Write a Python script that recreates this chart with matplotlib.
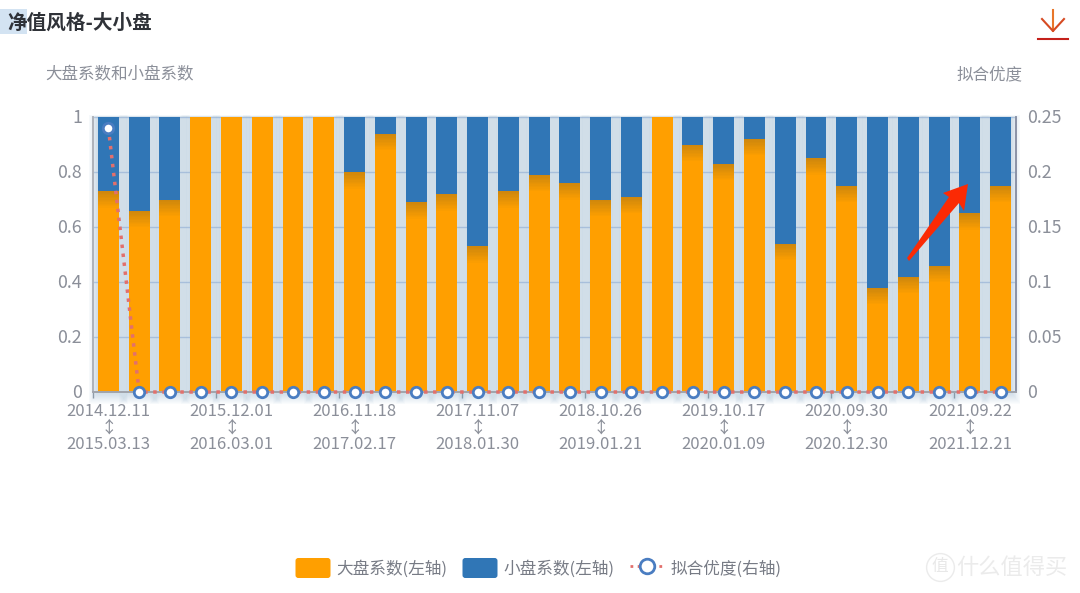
import matplotlib
matplotlib.use('Agg')
import matplotlib.pyplot as plt
from matplotlib.lines import Line2D
from matplotlib.legend_handler import HandlerPatch
from matplotlib.patches import FancyBboxPatch, Patch, Polygon, Rectangle
import numpy as np

plt.rcParams['font.family'] = ['Noto Sans CJK SC', 'DejaVu Sans']

# Values
periods = ['2014.12.11\n↕\n2015.03.13', '', '', '', '2015.12.01\n↕\n2016.03.01', '', '', '',
           '2016.11.18\n↕\n2017.02.17', '', '', '', '2017.11.07\n↕\n2018.01.30', '', '', '',
           '2018.10.26\n↕\n2019.01.21', '', '', '', '2019.10.17\n↕\n2020.01.09', '', '', '',
           '2020.09.30\n↕\n2020.12.30', '', '', '', '2021.09.22\n↕\n2021.12.21', '']
large_cap = [0.73, 0.66, 0.70, 1, 1, 1, 1, 1, 0.80, 0.94, 0.69, 0.72, 0.53, 0.73, 0.79,
             0.76, 0.70, 0.71, 1, 0.90, 0.83, 0.92, 0.54, 0.85, 0.75, 0.38, 0.42, 0.46,
             0.65, 0.75]
small_cap = [0.27, 0.34, 0.30, 0, 0, 0, 0, 0, 0.20, 0.06, 0.31, 0.28, 0.47, 0.27, 0.21,
             0.24, 0.30, 0.29, 0, 0.10, 0.17, 0.08, 0.46, 0.15, 0.25, 0.62, 0.58, 0.54,
             0.35, 0.25]
fit_quality = [0.24] + [0] * 29

left_ticks = [0, 0.2, 0.4, 0.6, 0.8, 1]
left_tick_labels = ['0', '0.2', '0.4', '0.6', '0.8', '1']
right_ticks = [0, 0.05, 0.1, 0.15, 0.2, 0.25]
right_tick_labels = ['0', '0.05', '0.1', '0.15', '0.2', '0.25']

W, H = 1080, 593
ORANGE = '#ff9f00'
BLUE = '#3076b6'
GREY = '#8b8f99'

fig = plt.figure(figsize=(W / 100, H / 100), dpi=100)
ax = fig.add_axes([93 / W, 1 - 392 / H, 923 / W, 275 / H])
ax2 = ax.twinx()
x = np.arange(len(large_cap))
large = np.array(large_cap)
small = np.array(small_cap)
bar_w = 0.68

ax.yaxis.grid(True, color='#c6d7e7', linewidth=1)
ax.set_axisbelow(True)

# Soft blue glow round the bars, built up from wider and wider faint bars
for k in range(1, 13):
    ax.bar(x, 1 + 0.004 * k, width=bar_w + 0.05 * k, bottom=-0.0035 * k,
           color='#6d9cc6', alpha=0.026, linewidth=0, zorder=1, clip_on=False)

ax.bar(x, large, width=bar_w, color=ORANGE, linewidth=0, zorder=2)

# The blue bars darken the top of the orange ones
for k in range(1, 13):
    ax.bar(x[large < 1], 0.005 * k, width=bar_w, bottom=large[large < 1] - 0.005 * k,
           color='#6b5a40', alpha=0.028, linewidth=0, zorder=2.5)

ax.bar(x, small, width=bar_w, bottom=large, color=BLUE, linewidth=0, zorder=3)

ax2.plot(x, fit_quality, color='#e2706c', linewidth=2.5, linestyle=(0, (1, 1.6)),
         marker='o', markersize=7.5, markerfacecolor='white', markeredgecolor='#4a7dc1',
         markeredgewidth=2, clip_on=False, zorder=5)

ax.set_xlim(-0.5, 29.5)
ax.set_ylim(0, 1)
ax2.set_ylim(0, 0.25)
ax.set_yticks(left_ticks, left_tick_labels)
ax2.set_yticks(right_ticks, right_tick_labels)
ax.set_xticks(x, periods, linespacing=0.95)
ax.set_xticks(x[::4] - 0.5, minor=True)
ax.tick_params(axis='x', which='major', length=0, pad=8, labelsize=12, labelcolor=GREY)
ax.tick_params(axis='x', which='minor', length=4, width=1, color='#9a9ea8')
ax.tick_params(axis='y', length=0, pad=8, labelsize=12.8, labelcolor=GREY)
ax2.tick_params(axis='y', length=0, pad=8, labelsize=12.8, labelcolor=GREY)

# y tick labels sit a little higher than the grid lines
offset_y = matplotlib.transforms.ScaledTranslation(0, 0.012, fig.dpi_scale_trans)
for label in ax.yaxis.get_majorticklabels() + ax2.yaxis.get_majorticklabels():
    label.set_transform(label.get_transform() + offset_y)

for a in (ax, ax2):
    a.spines['top'].set_visible(False)
    a.spines['left'].set_color('#aeb2ba')
    a.spines['right'].set_color('#8a92a6')
    a.spines['bottom'].set_color('#a0a4ac')
    a.spines['left'].set_linewidth(1.2)
    a.spines['right'].set_linewidth(1.2)
    a.spines['bottom'].set_linewidth(1.2)
ax.patch.set_visible(False)
ax2.patch.set_visible(False)

# Title block
fig.add_artist(Rectangle((0, 1 - 34 / H), 27 / W, 25 / H, transform=fig.transFigure,
                         facecolor='#d3e3f2', edgecolor='none', zorder=-1))
fig.text(7 / W, 1 - 23.5 / H, '净值风格-大小盘', fontsize=14.1, fontweight='bold', color='#2f3238',
         va='center', ha='left')
fig.text(45.5 / W, 1 - 75 / H, '大盘系数和小盘系数', fontsize=11.9, color=GREY, va='center', ha='left')
fig.text(1022.5 / W, 1 - 75 / H, '拟合优度', fontsize=11.9, color=GREY, va='center', ha='right')

# Download icon
icon_x = [[1053, 1053], [1042, 1053, 1064], [1038, 1068]]
icon_y = [[10, 31], [19, 31, 19], [39, 39]]
icon_c = ['#e8762a', '#d64a22', '#c4201a']
for px, py, c in zip(icon_x, icon_y, icon_c):
    fig.add_artist(Line2D(np.array(px) / W, 1 - np.array(py) / H, color=c, linewidth=1.5,
                          transform=fig.transFigure, zorder=6))

# Red arrow painted over the chart
arrow_px = np.array([[968, 184], [964, 211], [959, 203], [909, 261], [907, 258], [949, 197], [943, 193]])
fig.add_artist(Polygon(np.column_stack([arrow_px[:, 0] / W, 1 - arrow_px[:, 1] / H]),
                       closed=True, facecolor='#fb2a04', edgecolor='none',
                       transform=fig.transFigure, zorder=6))

# Watermark
fig.add_artist(Line2D([940 / W], [1 - 567 / H], marker='o', markersize=20, markerfacecolor='none',
                      markeredgecolor='#ebebeb', markeredgewidth=1, transform=fig.transFigure))
fig.text(940 / W, 1 - 567 / H, '值', fontsize=12, color='#e8e8e8', ha='center', va='center')
fig.text(956 / W, 1 - 567 / H, '什么值得买', fontsize=16, color='#ebebeb', ha='left', va='center')


def rounded_patch(legend, orig_handle, xdescent, ydescent, width, height, fontsize):
    return FancyBboxPatch((-xdescent + 2, -ydescent + 2), width - 4, height - 4,
                          boxstyle='round,pad=2')


handles = [Patch(facecolor=ORANGE, edgecolor='none'),
           Patch(facecolor=BLUE, edgecolor='none'),
           Line2D([0], [0], color='#e2706c', linewidth=2, linestyle=(0, (1, 1.6)), marker='o',
                  markersize=10.5, markerfacecolor='white', markeredgecolor='#4a7dc1',
                  markeredgewidth=2)]
labels = ['大盘系数(左轴)', '小盘系数(左轴)', '拟合优度(右轴)']
leg = fig.legend(handles, labels, loc='center', bbox_to_anchor=(538.5 / W, 1 - 568 / H), ncol=3,
                 frameon=False, fontsize=12, labelcolor='#777b85', handlelength=2.1,
                 handleheight=1.47, handletextpad=0.36, columnspacing=0.9,
                 handler_map={Patch: HandlerPatch(patch_func=rounded_patch)})

plt.savefig('out.png', dpi=100)
